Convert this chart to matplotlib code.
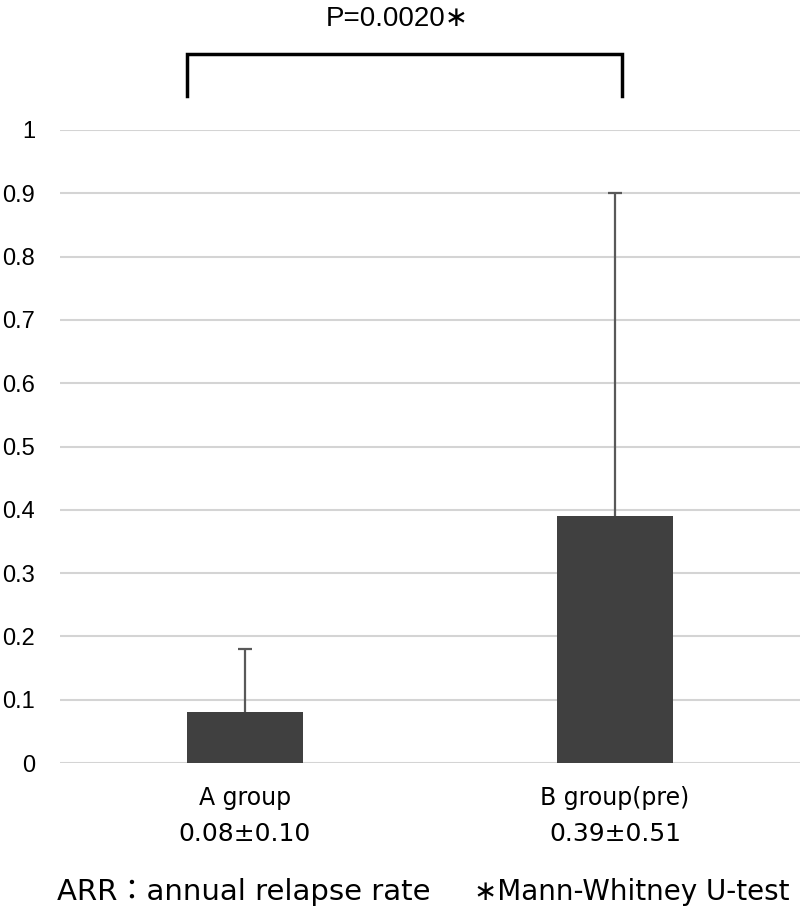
import matplotlib.pyplot as plt
import numpy as np

# data
groups = ['A group', 'B group(pre)']
arr_mean = [0.08, 0.39]
arr_sd = [0.10, 0.51]
stat_labels = ['0.08±0.10', '0.39±0.51']
y_ticks = [0, 0.1, 0.2, 0.3, 0.4, 0.5, 0.6, 0.7, 0.8, 0.9, 1]
y_tick_labels = ['0', '0.1', '0.2', '0.3', '0.4', '0.5', '0.6', '0.7', '0.8', '0.9', '1']
p_text = 'P=0.0020∗'
footnote_left = 'ARR：annual relapse rate'
footnote_right = '∗Mann-Whitney U-test'

label_fonts = ['DejaVu Sans', 'Noto Sans CJK JP']
plt.rcParams['font.family'] = ['Liberation Sans', 'DejaVu Sans']

fig = plt.figure(figsize=(8, 9.16), dpi=100)
ax = fig.add_axes([0.075, 1 - 763 / 916, 0.925, (763 - 130) / 916])

x = np.arange(len(groups))
width = 0.315
mean = np.array(arr_mean)
sd = np.array(arr_sd)
ax.bar(x, mean, width=width, color='#404040', zorder=3)
# upper-only error bars, cap only at the top
ax.vlines(x, mean, mean + sd, color='#595959', linewidth=1.6, zorder=4)
ax.plot(x, mean + sd, linestyle='none', marker='_', markersize=10,
        markeredgewidth=1.6, color='#595959', zorder=4)

ax.set_xlim(-0.5, 1.5)
ax.set_ylim(0, 1)
ax.set_yticks(y_ticks)
ax.set_yticklabels(y_tick_labels, fontsize=17)
ax.yaxis.grid(True, color='#d4d4d4', linewidth=1.5, zorder=0)
ax.set_axisbelow(True)
ax.tick_params(axis='y', length=0, pad=18)
ax.set_xticks([])
for s in ax.spines.values():
    s.set_visible(False)

# category labels and mean ± sd under the axis
for xi, g, st in zip(x, groups, stat_labels):
    ax.text(xi, -0.055, g, ha='center', va='center', fontsize=17, family=label_fonts,
            transform=ax.get_xaxis_transform())
    ax.text(xi, -0.112, st, ha='center', va='center', fontsize=18, family=label_fonts,
            transform=ax.get_xaxis_transform())

# significance bracket
x_left = x[0] - width / 2
x_right = x[1] + 0.02
ax.plot([x_left, x_left, x_right, x_right], [1.054, 1.12, 1.12, 1.054],
        color='black', linewidth=2.5, clip_on=False,
        transform=ax.get_xaxis_transform(), solid_joinstyle='miter')
fig.text(397 / 800, 1 - 19 / 916, p_text, ha='center', va='center', fontsize=20,
         family=['Liberation Sans', 'DejaVu Sans'])

fig.text(57 / 800, 1 - 892 / 916, footnote_left, ha='left', va='center',
         fontsize=21, family=label_fonts)
fig.text(790 / 800, 1 - 892 / 916, footnote_right, ha='right', va='center',
         fontsize=20, family=label_fonts)

fig.savefig('out.png', dpi=100)
